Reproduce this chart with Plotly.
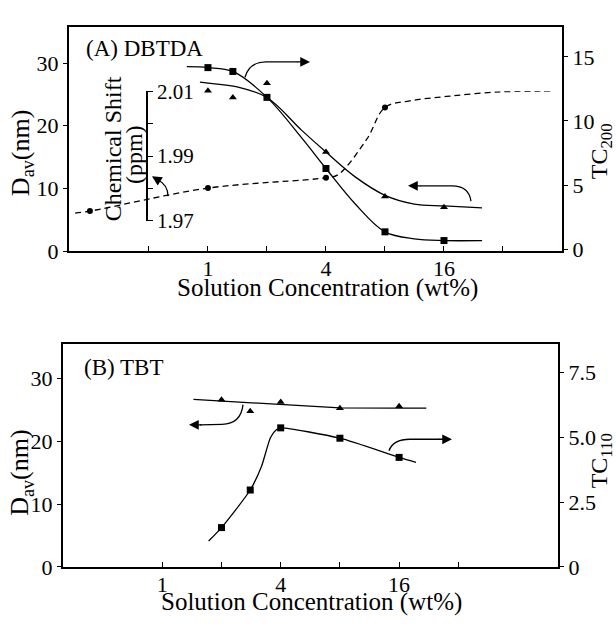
import math
import plotly.graph_objects as go

W, H = 616, 627
FONT = "Liberation Serif"

# ---------------- Panel A : DBTDA ----------------
a_conc = [1, 1.34, 2, 4, 8, 16]
a_tc200 = [14.16, 13.86, 11.84, 6.29, 1.35, 0.67]
a_dav = [25.6, 24.5, 26.8, 15.8, 8.7, 7.0]
a_shift_conc = [0.25, 1, 4, 8, 50]
a_shift = [1.9730, 1.9801, 1.9833, 2.0050, 2.0103]

# hand-drawn fitted curves
a_tc_fit_conc = [0.78, 1, 1.34, 2, 3, 4, 5.66, 8, 11.3, 16, 25]
a_tc_fit = [14.23, 14.16, 13.86, 11.84, 8.7, 6.29, 3.5, 1.35, 0.8, 0.67, 0.67]
a_dav_fit_conc = [0.91, 1, 1.41, 2, 3, 4, 5.66, 8, 11.3, 16, 25]
a_dav_fit = [26.95, 26.8, 26.2, 24.5, 19.3, 15.8, 11.8, 8.9, 7.5, 7.2, 6.9]
a_shift_fit_conc = [0.21, 0.25, 1, 4, 4.6, 6.46, 8, 10.7, 17.2, 30.9, 50, 56.9]
a_shift_fit = [1.9724, 1.9730, 1.9801, 1.9833, 1.9842, 1.9952, 2.0050, 2.0070,
               2.0085, 2.0098, 2.0100, 2.0100]

# ---------------- Panel B : TBT ----------------
b_conc = [2, 2.8, 4, 8, 16]
b_dav = [26.65, 24.8, 26.3, 25.3, 25.6]
b_tc110 = [1.52, 2.97, 5.37, 4.97, 4.23]
b_tc_fit_conc = [1.72, 2, 2.8, 3.2, 3.55, 3.8, 4, 8, 16, 19.5]
b_tc_fit = [1.0, 1.52, 2.97, 3.9, 5.0, 5.3, 5.37, 4.97, 4.23, 4.04]
b_dav_fit_conc = [1.44, 4, 8, 16, 22]
b_dav_fit = [26.7, 25.96, 25.35, 25.3, 25.3]

# tick labels
a_xticks = [0.5, 1, 2, 4, 8, 16, 32]
a_xtext = ["", "1", "", "4", "", "16", ""]
b_xticks = [1, 2, 4, 8, 16, 32]
b_xtext = ["1", "", "4", "", "16", ""]
dav_ticks = [0, 10, 20, 30]
tc200_ticks = [0, 5, 10, 15]
tc110_ticks = [0, 2.5, 5, 7.5]
tc110_text = ["0", "2.5", "5.0", "7.5"]
shift_ticks = [1.97, 1.98, 1.99, 2.00, 2.01]
shift_text = ["1.97", "", "1.99", "", "2.01"]


def px(x):
    return x / W


def py(y):
    return 1 - y / H


fig = go.Figure()
LW = 1.3
K = "black"

# Panel A traces
fig.add_trace(go.Scatter(x=a_tc_fit_conc, y=a_tc_fit, mode="lines",
                         line=dict(color=K, width=LW, shape="spline"),
                         xaxis="x", yaxis="y2", showlegend=False))
fig.add_trace(go.Scatter(x=a_conc, y=a_tc200, mode="markers",
                         marker=dict(symbol="square", size=7, color=K),
                         xaxis="x", yaxis="y2", showlegend=False, cliponaxis=False))
fig.add_trace(go.Scatter(x=a_dav_fit_conc, y=a_dav_fit, mode="lines",
                         line=dict(color=K, width=LW, shape="spline"),
                         xaxis="x", yaxis="y", showlegend=False))
fig.add_trace(go.Scatter(x=a_conc, y=a_dav, mode="markers",
                         marker=dict(symbol="triangle-up", size=7, color=K),
                         xaxis="x", yaxis="y", showlegend=False, cliponaxis=False))
fig.add_trace(go.Scatter(x=a_shift_fit_conc, y=a_shift_fit, mode="lines",
                         line=dict(color=K, width=LW, shape="spline", dash="6px,4px"),
                         xaxis="x", yaxis="y3", showlegend=False))
fig.add_trace(go.Scatter(x=a_shift_conc, y=a_shift, mode="markers",
                         marker=dict(symbol="circle", size=6, color=K),
                         xaxis="x", yaxis="y3", showlegend=False, cliponaxis=False))

# Panel B traces
fig.add_trace(go.Scatter(x=b_dav_fit_conc, y=b_dav_fit, mode="lines",
                         line=dict(color=K, width=LW),
                         xaxis="x2", yaxis="y4", showlegend=False))
fig.add_trace(go.Scatter(x=b_conc, y=b_dav, mode="markers",
                         marker=dict(symbol="triangle-up", size=7, color=K),
                         xaxis="x2", yaxis="y4", showlegend=False, cliponaxis=False))
fig.add_trace(go.Scatter(x=b_tc_fit_conc, y=b_tc_fit, mode="lines",
                         line=dict(color=K, width=LW, shape="spline", smoothing=0.6),
                         xaxis="x2", yaxis="y5", showlegend=False))
fig.add_trace(go.Scatter(x=b_conc, y=b_tc110, mode="markers",
                         marker=dict(symbol="square", size=7, color=K),
                         xaxis="x2", yaxis="y5", showlegend=False, cliponaxis=False))

tickfont = dict(family=FONT, size=22, color=K)
axis_common = dict(showline=True, linecolor=K, linewidth=2, showgrid=False,
                   zeroline=False, tickfont=tickfont, tickcolor=K)

fig.update_layout(
    width=W, height=H,
    margin=dict(l=0, r=0, t=0, b=0),
    paper_bgcolor="white", plot_bgcolor="rgba(0,0,0,0)",
    showlegend=False,
    xaxis=dict(type="log", domain=[px(69), px(562)],
               range=[math.log10(0.1955), math.log10(64)], anchor="y",
               tickvals=a_xticks, ticktext=a_xtext, ticks="inside", ticklen=5,
               ticklabelstandoff=-3, mirror=True, **axis_common),
    yaxis=dict(domain=[py(249), py(16)], range=[0, 35.7], anchor="x",
               tickvals=dav_ticks, ticks="outside", ticklen=4, **axis_common),
    yaxis2=dict(overlaying="y", side="right", anchor="x", range=[-0.15, 17.3],
                tickvals=tc200_ticks, ticks="outside", ticklen=4, **axis_common),
    yaxis3=dict(domain=[py(217.5), py(82.5)], anchor="free", position=px(147),
                side="right", range=[1.97, 2.01], tickvals=shift_ticks,
                ticktext=shift_text, ticks="outside", ticklen=5,
                showline=True, linecolor=K, linewidth=1.5, showgrid=False,
                zeroline=False, tickfont=dict(family=FONT, size=21, color=K),
                tickcolor=K),
    xaxis2=dict(type="log", domain=[px(63), px(558)],
                range=[math.log10(0.3127), math.log10(102.8)], anchor="y4",
                tickvals=b_xticks, ticktext=b_xtext, ticks="inside", ticklen=5,
                ticklabelstandoff=-3, mirror=True, **axis_common),
    yaxis4=dict(domain=[py(578), py(346)], range=[0, 35.5], anchor="x2",
                tickvals=dav_ticks, ticks="outside", ticklen=4, **axis_common),
    yaxis5=dict(overlaying="y4", side="right", anchor="x2", range=[0, 8.6],
                tickvals=tc110_ticks, ticktext=tc110_text, ticks="outside",
                ticklen=4, **axis_common),
)

ann = []


def text(x, y, t, size=20, angle=0):
    ann.append(dict(x=px(x), y=py(y), xref="paper", yref="paper", text=t,
                    showarrow=False, textangle=angle, xanchor="center",
                    yanchor="middle", font=dict(family=FONT, size=size, color=K)))


text(144, 38, "(A) DBTDA", 23)
text(123, 370, "(B) TBT", 23)
text(327, 287, "Solution Concentration (wt%)", 25)
text(312, 615, "Solution Concentration (wt%)", 25)
text(22, 147, "D<sub>av</sub>(nm)", 26, -90)
text(21, 480, "D<sub>av</sub>(nm)", 26, -90)
text(601, 145, "TC<sub>200</sub>", 24, -90)
text(601, 468, "TC<sub>110</sub>", 24, -90)
text(113, 143, "Chemical Shift", 24, -90)
text(134, 149, "(ppm)", 24, -90)

shapes = []


def curve(p):
    s = ""
    for cmd, pts in p:
        s += cmd + " " + " ".join(f"{px(a):.5f},{py(b):.5f}" for a, b in pts) + " "
    shapes.append(dict(type="path", path=s.strip(), xref="paper", yref="paper",
                       line=dict(color=K, width=LW)))


def head(tx, ty, dx, dy):
    ann.append(dict(x=px(tx), y=py(ty), xref="paper", yref="paper", text="",
                    showarrow=True, ax=dx, ay=dy, arrowhead=2, arrowsize=1.5,
                    arrowwidth=1.3, arrowcolor=K, standoff=0))


curve([("M", [(245, 68)]), ("Q", [(249, 52), (266, 52)]), ("L", [(298, 52)])])
head(310, 52, -14, 0)
curve([("M", [(471, 197)]), ("Q", [(469, 181), (452, 181)]), ("L", [(420, 181)])])
head(408, 181, 14, 0)
curve([("M", [(168, 192)]), ("Q", [(168, 180), (158, 175)])])
head(152, 171, 8, 5)
curve([("M", [(243, 409)]), ("Q", [(241, 429), (222, 429.5)]), ("L", [(200, 430)])])
head(189, 430, 14, 0)
curve([("M", [(389, 457)]), ("Q", [(393, 445), (410, 445)]), ("L", [(440, 445)])])
head(452, 445, -14, 0)

fig.update_layout(annotations=ann, shapes=shapes)
fig.write_html("out.html", config={"displayModeBar": False},
               post_script="document.body.style.margin='0px';")
